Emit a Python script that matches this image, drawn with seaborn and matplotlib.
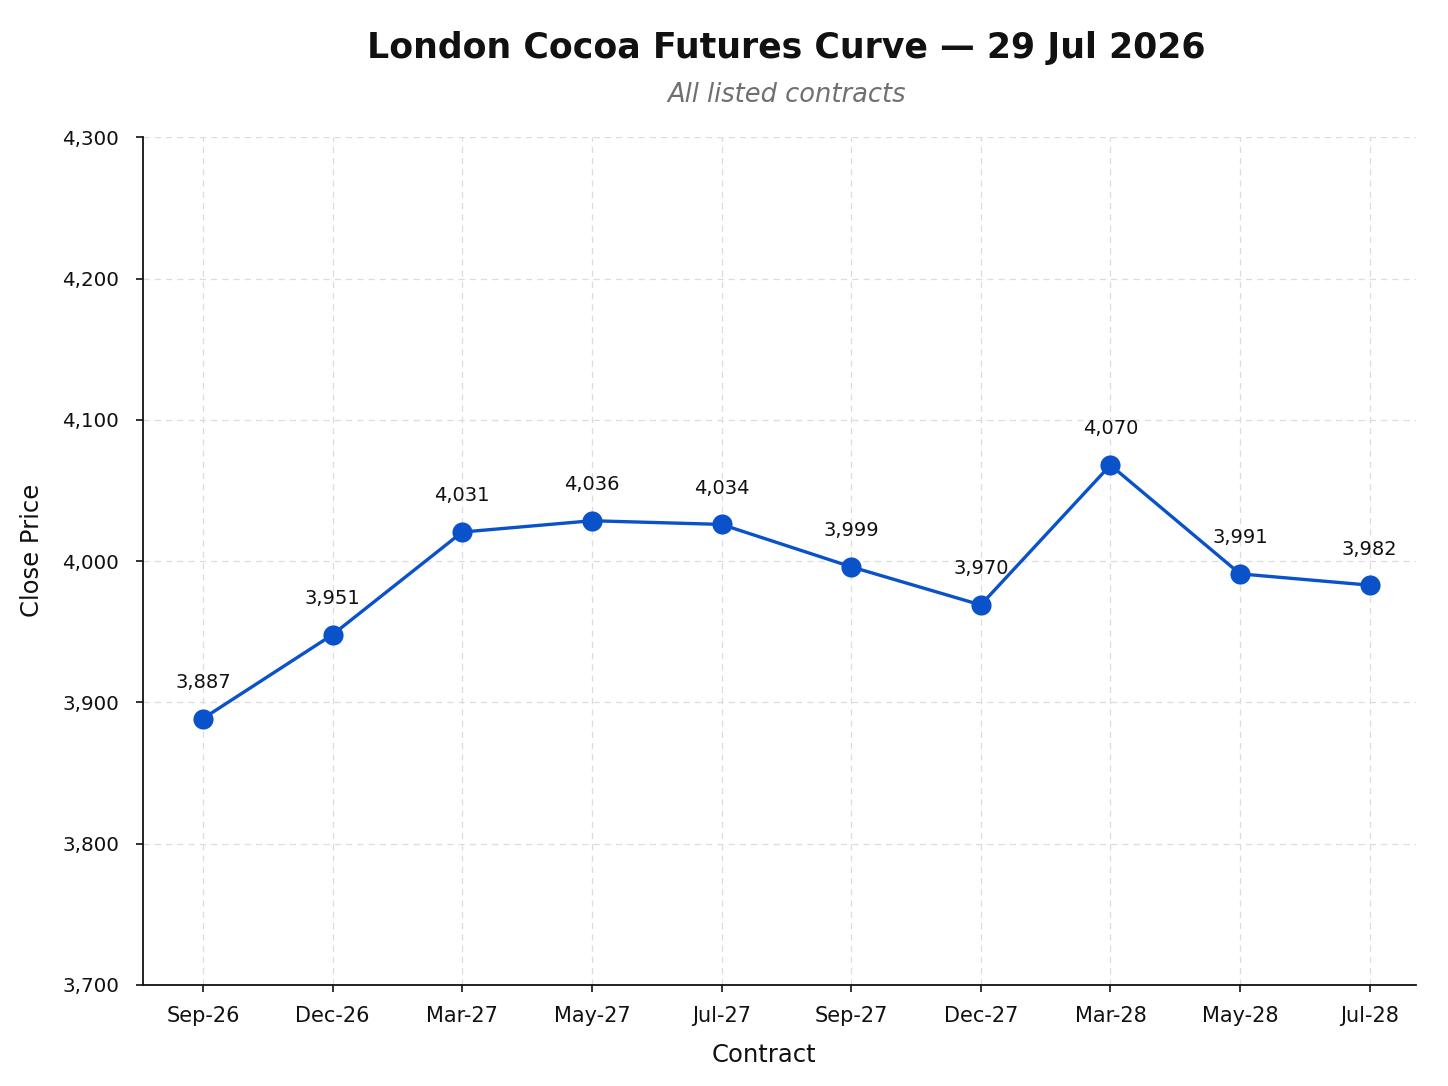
import matplotlib
matplotlib.use("Agg")
import matplotlib.pyplot as plt
import seaborn as sns
import pandas as pd

contracts = ["Sep-26", "Dec-26", "Mar-27", "May-27", "Jul-27",
             "Sep-27", "Dec-27", "Mar-28", "May-28", "Jul-28"]
close_plotted = [3888.6, 3948, 4020.6, 4028.6, 4026, 3996, 3969, 4068, 3991, 3983]
label_values = [3887, 3951, 4031, 4036, 4034, 3999, 3970, 4070, 3991, 3982]
y_ticks = [3700, 3800, 3900, 4000, 4100, 4200, 4300]

title = "London Cocoa Futures Curve — 29 Jul 2026"
subtitle = "All listed contracts"

sns.set_theme(style="white")
plt.rcParams["font.family"] = ["DejaVu Sans"]

df = pd.DataFrame({"Contract": contracts, "Close Price": close_plotted})
df["pos"] = range(len(df))

fig = plt.figure(figsize=(14.48, 10.86), dpi=100)
fig.patch.set_facecolor("white")
ax = fig.add_axes([142.7 / 1448, 1 - 985 / 1086, (1415.7 - 142.7) / 1448, (985 - 137.3) / 1086])

color = "#0a52c9"
sns.lineplot(data=df, x="pos", y="Close Price", ax=ax, sort=False,
             color=color, linewidth=2.4, marker="o", markersize=14.5,
             markeredgecolor=color, markeredgewidth=0, zorder=3)

for xi, yi, lv in zip(df["pos"], close_plotted, label_values):
    ax.annotate(f"{lv:,}", (xi, yi), xytext=(0, 26), textcoords="offset points",
                ha="center", va="center", fontsize=14, color="#111111")

ax.set_xlim(-0.465, 9.355)
ax.set_ylim(3700, 4300)
ax.set_xticks(list(df["pos"]))
ax.set_xticklabels(contracts)
ax.set_yticks(y_ticks)
ax.set_yticklabels([f"{v:,}" for v in y_ticks])
ax.tick_params(axis="x", labelsize=15, colors="#111111", length=5, width=1.2,
               direction="out", bottom=True, pad=10)
ax.tick_params(axis="y", labelsize=14.3, colors="#111111", length=5, width=1.2,
               direction="out", left=True, pad=12)

ax.grid(True, axis="both", linestyle=(0, (5, 4)), color="#dcdcdc", linewidth=0.9)
ax.set_axisbelow(True)
for s in ["top", "right"]:
    ax.spines[s].set_visible(False)
for s in ["left", "bottom"]:
    ax.spines[s].set_color("#111111")
    ax.spines[s].set_linewidth(1.3)

ax.set_xlabel("Contract", fontsize=17.5, color="#111111")
ax.set_ylabel("Close Price", fontsize=17.5, color="#111111")
ax.xaxis.set_label_coords((764 - 142.7) / 1273, (985 - 1055) / 847.7)
ax.xaxis.label.set_va("center")
ax.yaxis.set_label_coords((32 - 142.7) / 1273, (985 - 550) / 847.7)
ax.yaxis.label.set_va("center")

fig.text(786 / 1448, 1 - 48 / 1086, title, ha="center", va="center",
         fontsize=25, fontweight="bold", color="#111111")
fig.text(787 / 1448, 1 - 95 / 1086, subtitle, ha="center", va="center",
         fontsize=18.5, fontstyle="italic", color="#707070")

fig.savefig("out.png", dpi=100, facecolor="white")
